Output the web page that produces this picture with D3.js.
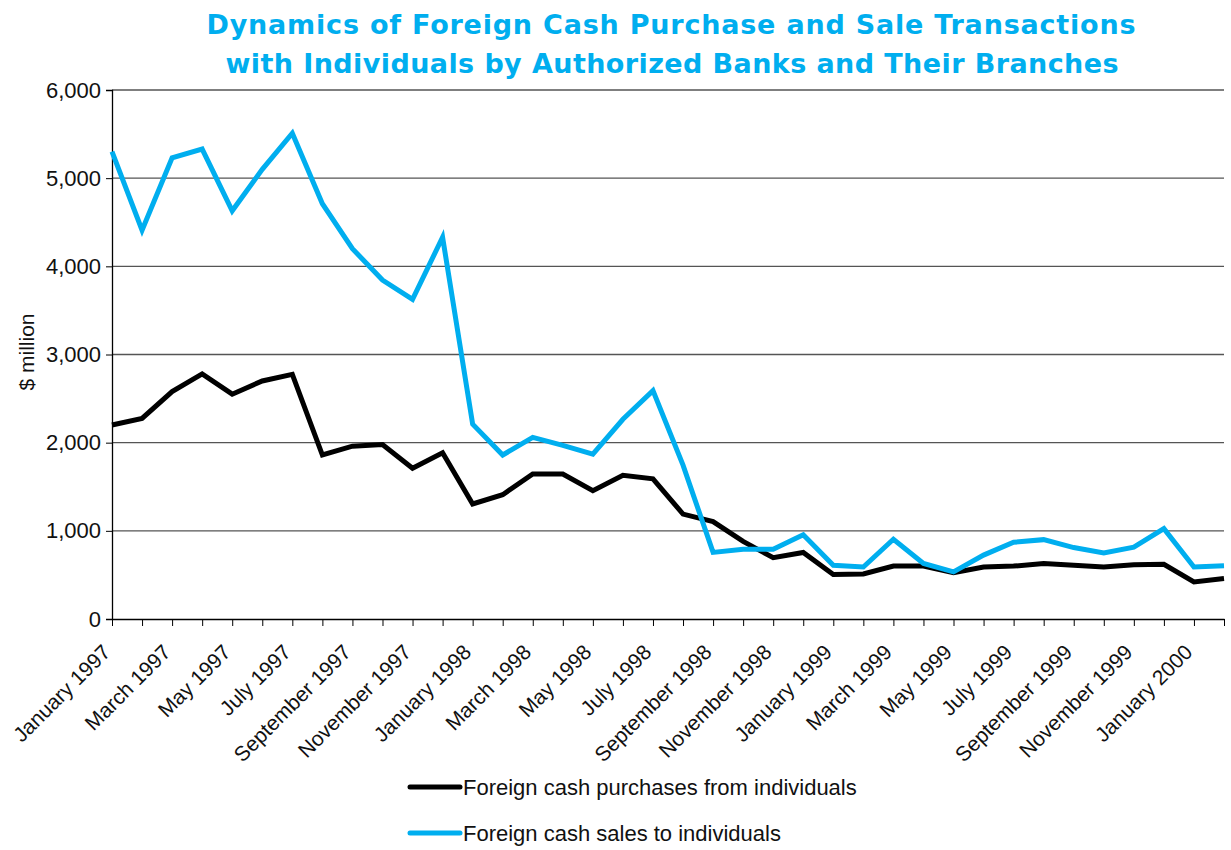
<!DOCTYPE html>
<html>
<head>
<meta charset="utf-8">
<script src="https://cdn.jsdelivr.net/npm/d3@7"></script>
<style>
  body { margin: 0; background: #fff; }
  text { font-family: "Liberation Sans", Arial, sans-serif; }
  text.title { font-family: "DejaVu Sans", sans-serif; }
</style>
</head>
<body>
<svg id="chart" width="1231" height="850"></svg>
<script>
// month labels, Jan 1997 .. Feb 2000
var monthNames = ['January', 'February', 'March', 'April', 'May', 'June', 'July',
    'August', 'September', 'October', 'November', 'December'];
var months = [];
for (var yr = 1997; yr <= 2000; yr++) {
    for (var m = 0; m < 12; m++) {
        if (yr === 2000 && m > 1) { break; }
        months.push(monthNames[m] + ' ' + yr);
    }
}

// $ million
var purchases = [2200, 2275, 2580, 2780, 2550, 2700, 2775, 1860, 1960, 1980, 1710, 1885,
    1305, 1410, 1645, 1645, 1455, 1630, 1590, 1190, 1105, 880, 695, 755,
    505, 510, 600, 600, 525, 590, 600, 630, 610, 590, 615, 620, 420, 460];
var sales = [5300, 4410, 5230, 5330, 4630, 5100, 5510, 4710, 4200, 3845, 3625, 4330,
    2210, 1860, 2060, 1970, 1870, 2265, 2590, 1745, 755, 790, 790, 955,
    610, 590, 905, 630, 535, 725, 870, 900, 810, 750, 815, 1025, 590, 605];
var yTicks = [0, 1000, 2000, 3000, 4000, 5000, 6000];

var series = [
    { name: 'Foreign cash purchases from individuals', values: purchases, color: '#000000' },
    { name: 'Foreign cash sales to individuals', values: sales, color: '#00aeef' }
];

var svg = d3.select('#chart'),
    plotLeft = 112, plotRight = 1224, plotTop = 90, plotBottom = 619;

var x = d3.scalePoint().domain(months).range([plotLeft, plotRight]);
var y = d3.scaleLinear().domain([0, 6000]).range([plotBottom, plotTop]);

// title
var title = svg.append('g')
    .attr('font-weight', 'bold')
    .attr('font-size', 27)
    .attr('fill', '#00aeef')
    .attr('text-anchor', 'middle');
title.append('text').attr('class', 'title').attr('x', 671).attr('y', 34)
    .attr('textLength', 929)
    .text('Dynamics of Foreign Cash Purchase and Sale Transactions');
title.append('text').attr('class', 'title').attr('x', 672).attr('y', 73)
    .attr('textLength', 893)
    .text('with Individuals by Authorized Banks and Their Branches');

// gridlines
svg.append('g')
    .selectAll('line')
    .data(yTicks.slice(1))
    .enter().append('line')
    .attr('x1', plotLeft).attr('x2', plotRight)
    .attr('y1', function (d) { return y(d); })
    .attr('y2', function (d) { return y(d); })
    .attr('stroke', '#555')
    .attr('stroke-width', 1.3);

// y axis
var yAxis = svg.append('g')
    .attr('transform', 'translate(' + plotLeft + ',0)')
    .call(d3.axisLeft(y).tickValues(yTicks).tickSize(6).tickPadding(5)
        .tickFormat(d3.format(',')));
yAxis.select('.domain').attr('stroke', '#000').attr('stroke-width', 1.3);
yAxis.selectAll('.tick line').attr('stroke', '#000');
yAxis.selectAll('text')
    .attr('font-size', 22)
    .attr('fill', '#111');

svg.append('text')
    .attr('transform', 'translate(34,352) rotate(-90)')
    .attr('text-anchor', 'middle')
    .attr('font-size', 21)
    .attr('fill', '#111')
    .text('$ million');

// x axis
var xAxis = svg.append('g')
    .attr('transform', 'translate(0,' + plotBottom + ')')
    .call(d3.axisBottom(x).tickSize(7).tickSizeOuter(0)
        .tickFormat(function (d, i) { return i % 2 === 0 ? d : ''; }));
xAxis.select('.domain').attr('stroke', '#000').attr('stroke-width', 1.3);
xAxis.selectAll('.tick line').attr('stroke', '#000');
xAxis.selectAll('text')
    .attr('font-size', 21)
    .attr('fill', '#111')
    .attr('text-anchor', 'end')
    .attr('transform', 'translate(-14,21) rotate(-45)')
    .attr('dy', '0.9em')
    .attr('y', 0)
    .attr('x', 0);

// lines
var line = d3.line()
    .x(function (d, i) { return x(months[i]); })
    .y(function (d) { return y(d); });

svg.append('g')
    .selectAll('path')
    .data(series)
    .enter().append('path')
    .attr('d', function (s) { return line(s.values); })
    .attr('fill', 'none')
    .attr('stroke', function (s) { return s.color; })
    .attr('stroke-width', 5)
    .attr('stroke-linejoin', 'miter');

// legend
var legend = svg.append('g')
    .selectAll('g')
    .data(series)
    .enter().append('g')
    .attr('transform', function (s, i) { return 'translate(408,' + (787 + i * 46) + ')'; });
legend.append('line')
    .attr('x1', 2).attr('x2', 52)
    .attr('stroke', function (s) { return s.color; })
    .attr('stroke-width', 5)
    .attr('stroke-linecap', 'round');
legend.append('text')
    .attr('x', 55).attr('y', 8)
    .attr('font-size', 22)
    .attr('fill', '#111')
    .text(function (s) { return s.name; });
</script>
</body>
</html>
